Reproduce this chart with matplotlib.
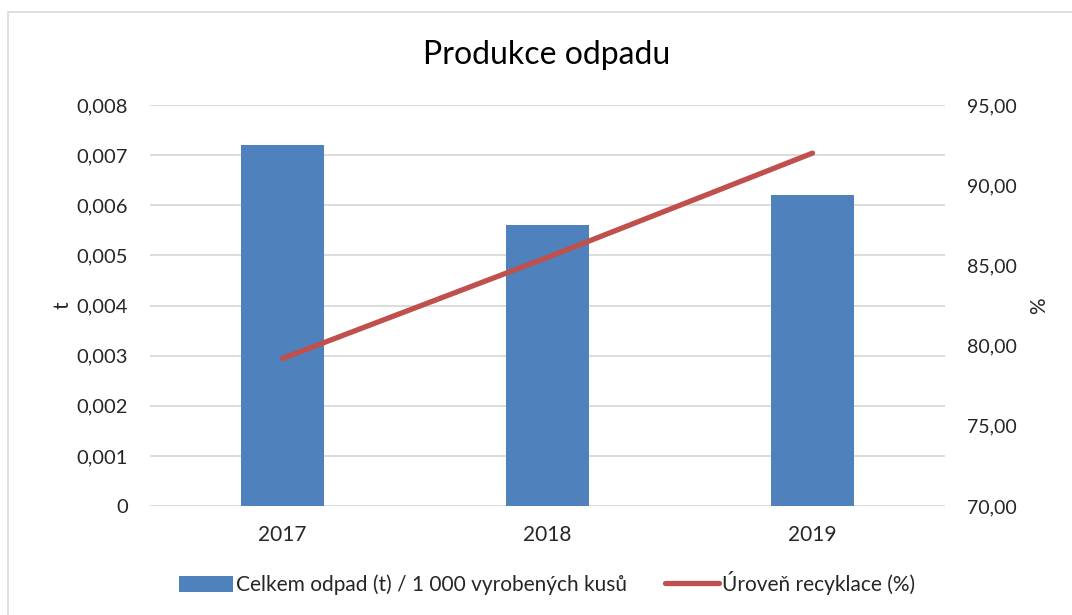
import matplotlib
matplotlib.use("Agg")
import matplotlib.pyplot as plt
from matplotlib.patches import Rectangle
from matplotlib.ticker import FuncFormatter

years = ["2017", "2018", "2019"]
waste = [0.0072, 0.0056, 0.0062]        # t / 1 000 vyrobených kusů
recycling = [79.2, 85.5, 92.0]          # %

BLUE = "#4F81BD"
RED = "#C0504D"
GRID = "#D9D9D9"
TXT = "#262626"

plt.rcParams["font.family"] = ["Lato", "DejaVu Sans"]

fig = plt.figure(figsize=(10.72, 6.15), dpi=100)
fig.patches.append(Rectangle((8 / 1072, -0.01), 1.02, 1 - 12 / 615 + 0.01,
                             transform=fig.transFigure, fill=False,
                             edgecolor="#D9D9D9", linewidth=1.2))

ax = fig.add_axes([150 / 1072, 1 - 506 / 615, 795 / 1072, 401 / 615])
x = range(len(years))
ax.bar(x, waste, width=0.31, color=BLUE, zorder=2,
       label="Celkem odpad (t) / 1 000 vyrobených kusů")
ax.set_xlim(-0.5, 2.5)
ax.set_ylim(0, 0.008)
ax.set_yticks([i / 1000 for i in range(9)])
ax.yaxis.set_major_formatter(FuncFormatter(
    lambda v, p: "0" if v == 0 else f"{v:.3f}".replace(".", ",")))
ax.set_xticks(list(x))
ax.set_xticklabels(years)
ax.grid(axis="y", color=GRID, linewidth=1.3, zorder=0)
ax.set_axisbelow(True)
for sp in ax.spines.values():
    sp.set_visible(False)
ax.tick_params(length=0, labelsize=14.5, colors=TXT, pad=16)
ax.tick_params(axis="x", labelsize=15, pad=14)
ax.set_ylabel("t", fontsize=15, color=TXT, labelpad=3)

ax2 = ax.twinx()
ax2.plot(list(x), recycling, color=RED, linewidth=3.8, solid_capstyle="round",
         label="Úroveň recyklace (%)", zorder=3)
ax2.set_ylim(70, 95)
ax2.set_yticks([70, 75, 80, 85, 90, 95])
ax2.yaxis.set_major_formatter(FuncFormatter(lambda v, p: f"{v:.2f}".replace(".", ",")))
for sp in ax2.spines.values():
    sp.set_visible(False)
ax2.tick_params(length=0, labelsize=14, colors=TXT, pad=16)
ax2.set_ylabel("%", fontsize=15, color=TXT, labelpad=9)

fig.text(547 / 1072, 1 - 55 / 615, "Produkce odpadu", ha="center", va="center",
         fontsize=23, color="#000000")

h1, l1 = ax.get_legend_handles_labels()
h2, l2 = ax2.get_legend_handles_labels()
fig.legend(h1 + h2, l1 + l2, loc="center", bbox_to_anchor=(547 / 1072, 1 - 583 / 615),
           ncol=2, frameon=False, fontsize=15, handlelength=2.6, handleheight=0.8,
           handletextpad=0.15, columnspacing=1.8, labelcolor=TXT)

fig.savefig("out.png", dpi=100)
